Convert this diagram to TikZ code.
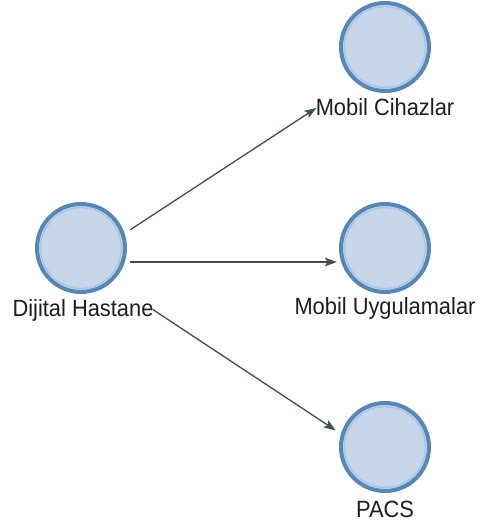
\documentclass[tikz,border=0pt]{standalone}
\usepackage{fontspec}
\setmainfont{Liberation Sans}
\usetikzlibrary{arrows.meta}
\definecolor{ringc}{HTML}{5A86B6}
\definecolor{innerc}{HTML}{A4C4E8}
\definecolor{fillc}{HTML}{C7D6EB}
\definecolor{edgec}{HTML}{3E4F4C}
\definecolor{txtc}{HTML}{1E1E1E}
\tikzset{
  ent/.style={circle, draw=ringc, line width=4pt, fill=fillc, minimum size=88pt, inner sep=0pt,
    path picture={\draw[innerc, line width=1.3pt] (path picture bounding box.center) circle (40.5pt);}},
  lbl/.style={anchor=base, inner sep=0pt, text=txtc, font=\fontsize{23.5}{26}\selectfont},
  rel/.style={draw=edgec, line width=1.3pt, -{Stealth[length=12pt, width=8.5pt, inset=2.5pt]}}
}
\newcommand{\lbtext}[1]{\scalebox{0.93}[1]{#1}}
\begin{document}
\begin{tikzpicture}[x=1pt, y=-1pt]
\useasboundingbox[fill=white] (0,0) rectangle (478,530);
% nodes
\node[ent] (dh) at (81,248) {};
\node[lbl] (dhl) at (83,316) {\lbtext{Dijital Hastane}};
\node[ent] (mc) at (385,47) {};
\node[lbl] (mcl) at (385,115) {\lbtext{Mobil Cihazlar}};
\node[ent] (mu) at (385,248) {};
\node[lbl] (mul) at (385,314) {\lbtext{Mobil Uygulamalar}};
\node[ent] (pa) at (385,447) {};
\node[lbl] (pal) at (385,517) {\lbtext{PACS}};
% group centres
\coordinate (dhc) at (81,262);
\coordinate (mcc) at (385,63);
\coordinate (muc) at (385,262);
\coordinate (pac) at (385,463);
% connectors
\draw[rel, shorten <=59pt, shorten >=82pt] (dhc) -- (mcc);
\draw[rel, shorten <=49pt, shorten >=48pt] (dhc) -- (muc);
\draw[rel, shorten <=86pt, shorten >=59pt] (dhc) -- (pac);
\end{tikzpicture}
\end{document}
